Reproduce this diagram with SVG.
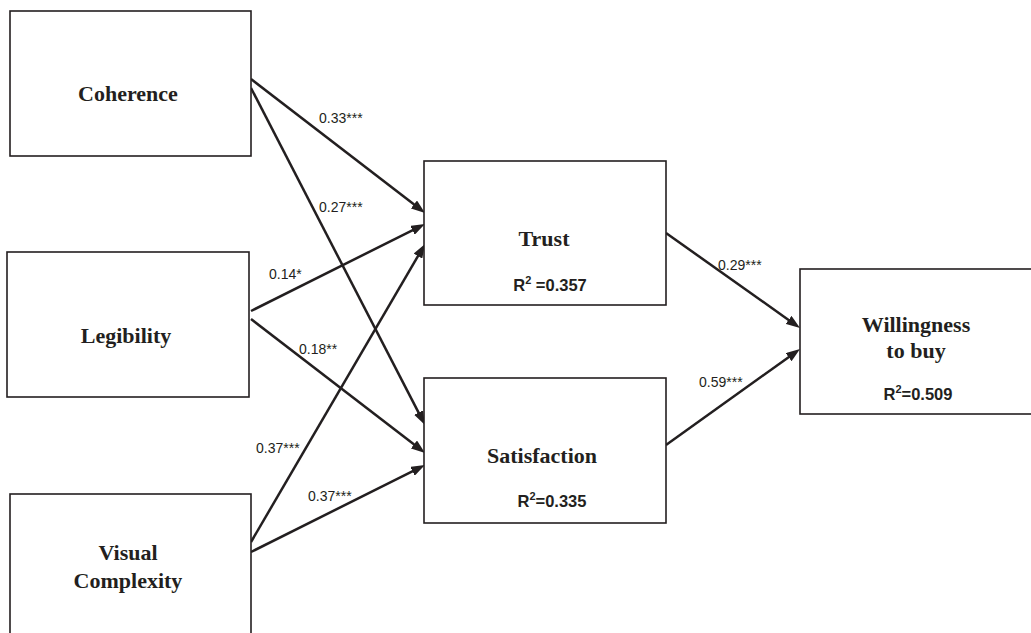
<svg xmlns="http://www.w3.org/2000/svg" width="1031" height="633" viewBox="0 0 1031 633">
<style>
.box{fill:#fff;stroke:#231f20;stroke-width:1.6}
.nt{font-family:"Liberation Serif","Times New Roman",serif;font-weight:bold;font-size:22px;fill:#231f20;text-anchor:middle}
.r2{font-family:"Liberation Sans",Arial,sans-serif;font-weight:bold;font-size:16.5px;fill:#231f20;text-anchor:middle}
.sup{font-size:11px}
.el{font-family:"Liberation Sans",Arial,sans-serif;font-size:14px;fill:#231f20}
.cn{stroke:#231f20;stroke-width:2.5;fill:none;marker-end:url(#ah)}
</style>
<defs>
<marker id="ah" viewBox="0 0 14 10" refX="6" refY="5" markerWidth="14" markerHeight="10" markerUnits="userSpaceOnUse" orient="auto">
<path d="M0,0 L14,5 L0,10 z" fill="#231f20"/>
</marker>
</defs>
<rect width="1031" height="633" fill="#fff"/>
<g id="connectors">
<line class="cn" x1="251" y1="79" x2="418.7" y2="208.1"/>
<line class="cn" x1="251" y1="88" x2="421.3" y2="417.9"/>
<line class="cn" x1="251" y1="311" x2="417.8" y2="227.6"/>
<line class="cn" x1="251" y1="319" x2="418.7" y2="448.1"/>
<line class="cn" x1="251" y1="542" x2="421.0" y2="250.9"/>
<line class="cn" x1="251" y1="552" x2="417.8" y2="468.6"/>
<line class="cn" x1="666" y1="233" x2="793.5" y2="323.4"/>
<line class="cn" x1="666" y1="445" x2="793.5" y2="353.7"/>
<text class="el" x="319" y="123">0.33***</text>
<text class="el" x="319" y="212">0.27***</text>
<text class="el" x="269" y="279">0.14*</text>
<text class="el" x="299" y="354">0.18**</text>
<text class="el" x="256" y="453">0.37***</text>
<text class="el" x="308" y="501">0.37***</text>
<text class="el" x="718" y="270">0.29***</text>
<text class="el" x="699" y="387">0.59***</text>
</g>
<g id="coherence">
<rect class="box" x="10" y="11" width="241" height="145"/>
<text class="nt" x="128" y="101">Coherence</text>
</g>
<g id="legibility">
<rect class="box" x="7" y="252" width="242" height="145"/>
<text class="nt" x="126" y="343">Legibility</text>
</g>
<g id="visual-complexity">
<rect class="box" x="10" y="494" width="241" height="160"/>
<text class="nt" x="128" y="560">Visual</text>
<text class="nt" x="128" y="588">Complexity</text>
</g>
<g id="trust">
<rect class="box" x="424" y="161" width="242" height="144"/>
<text class="nt" x="544" y="246">Trust</text>
<text class="r2" x="550" y="291">R<tspan class="sup" dy="-7">2</tspan><tspan dy="7"> =0.357</tspan></text>
</g>
<g id="satisfaction">
<rect class="box" x="424" y="378" width="242" height="145"/>
<text class="nt" x="542" y="463">Satisfaction</text>
<text class="r2" x="552" y="507">R<tspan class="sup" dy="-7">2</tspan><tspan dy="7">=0.335</tspan></text>
</g>
<g id="willingness">
<rect class="box" x="800" y="269" width="240" height="145"/>
<text class="nt" x="916" y="332">Willingness</text>
<text class="nt" x="916" y="358">to buy</text>
<text class="r2" x="918" y="400">R<tspan class="sup" dy="-7">2</tspan><tspan dy="7">=0.509</tspan></text>
</g>
</svg>
